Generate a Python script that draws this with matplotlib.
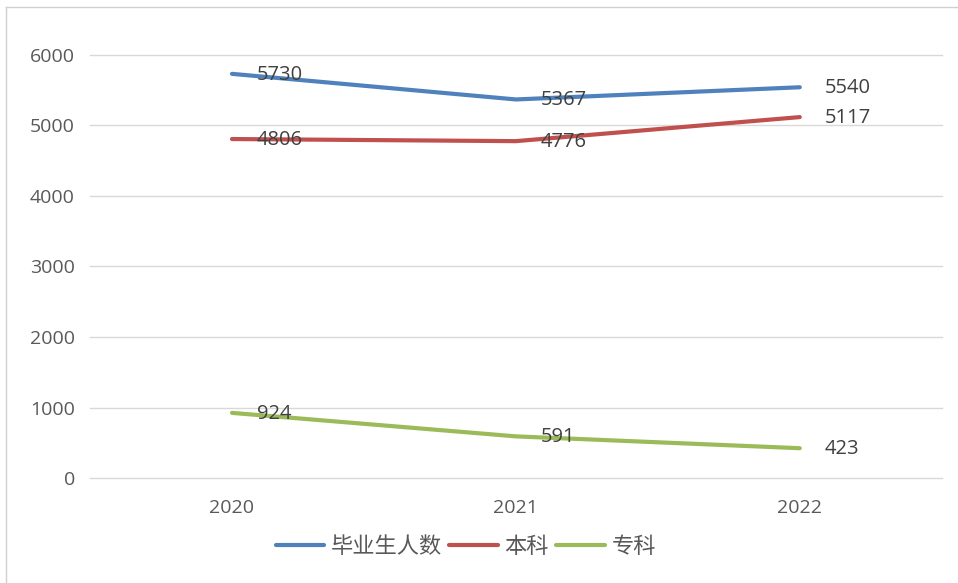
import matplotlib
matplotlib.use("Agg")
import matplotlib.pyplot as plt
from matplotlib.lines import Line2D

plt.rcParams['font.family'] = ['Open Sans', 'Noto Sans CJK SC', 'DejaVu Sans']

years = ["2020", "2021", "2022"]
graduates = [5730, 5367, 5540]
undergrad = [4806, 4776, 5117]
junior = [924, 591, 423]

series = [
    ("毕业生人数", graduates, "#4F81BD"),
    ("本科", undergrad, "#C0504D"),
    ("专科", junior, "#9BBB59"),
]

fig = plt.figure(figsize=(9.58, 5.83), dpi=100)
ax = fig.add_axes([0.094, 0.180, 0.889, 0.726])

x = list(range(len(years)))
for name, vals, color in series:
    ax.plot(x, vals, color=color, linewidth=3, label=name, solid_capstyle="round")
    for xi, v in zip(x, vals):
        ax.annotate(str(v), (xi, v), xytext=(25, -1), textcoords="offset pixels",
                    ha="left", va="center", fontsize=14.5, color="#404040")

ax.set_xlim(-0.5, 2.5)
ax.set_ylim(0, 6000)
ax.set_yticks(range(0, 6001, 1000))
ax.set_xticks(x)
ax.set_xticklabels(years)
ax.grid(axis="y", color="#D9D9D9", linewidth=1)
for gl in ax.get_ygridlines():
    gl.set_clip_on(False)
ax.set_axisbelow(True)
for s in ax.spines.values():
    s.set_visible(False)
ax.tick_params(axis="both", length=0, labelsize=14, labelcolor="#595959")
ax.tick_params(axis="y", pad=11)
ax.tick_params(axis="x", pad=15)

leg = ax.legend(loc="center", bbox_to_anchor=(0.441, -0.162), ncol=3,
                frameon=False, prop={"family": ["Noto Sans CJK SC"], "size": 16},
                handlelength=2.2, handletextpad=0.3,
                columnspacing=0.3, labelcolor="#595959")

# outer chart frame (only top and left edges show in the crop)
fig.add_artist(Line2D([0.006, 1.0], [0.988, 0.988], transform=fig.transFigure,
                      color="#D0D0D0", linewidth=1))
fig.add_artist(Line2D([0.006, 0.006], [0.0, 0.988], transform=fig.transFigure,
                      color="#D0D0D0", linewidth=1))

fig.savefig("out.png", dpi=100)
